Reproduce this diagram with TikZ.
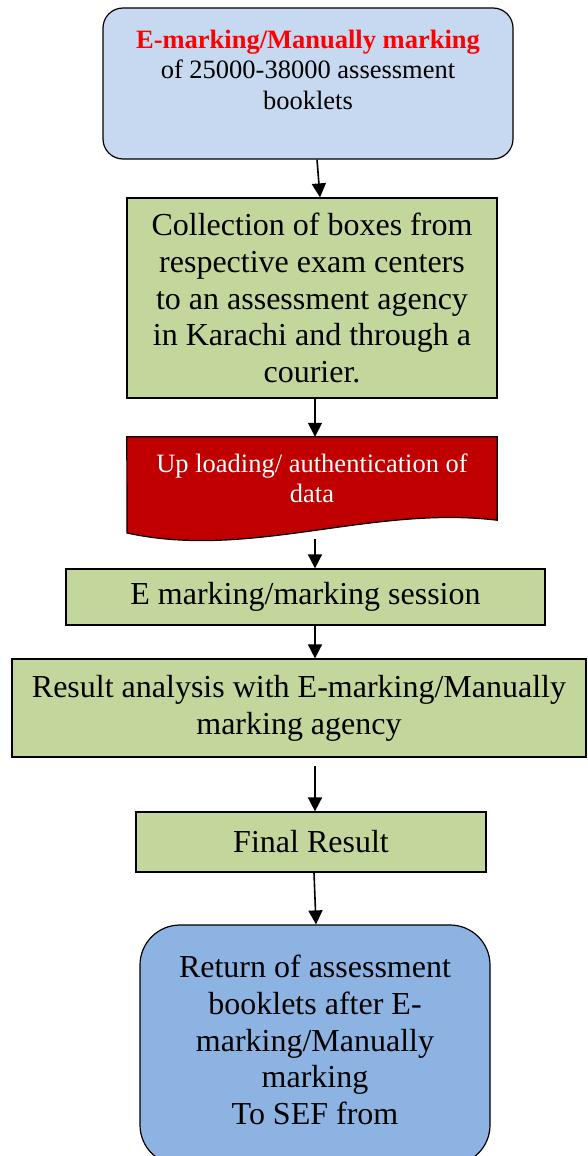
\documentclass[tikz,border=0pt]{standalone}
\usepackage{fontspec}
\setmainfont{Liberation Serif}
\usepackage{tikz}
\usetikzlibrary{arrows.meta,positioning,calc,backgrounds}
\definecolor{topblue}{RGB}{198,217,241}
\definecolor{boxgreen}{RGB}{195,214,155}
\definecolor{docred}{RGB}{192,0,0}
\definecolor{retblue}{RGB}{141,179,226}
\definecolor{markred}{RGB}{255,0,0}

\begin{document}
\begin{tikzpicture}[x=1pt, y=-1pt,
greenbox/.style={rectangle, draw=black, fill=boxgreen, line width=1.2pt, align=center, inner sep=0pt, font=\fontsize{32}{36.8}\selectfont},
roundbox/.style={rectangle, draw=black, line width=1.2pt, inner sep=0pt},
flowarrow/.style={line width=1.6pt, -{Triangle[length=14pt, width=14pt]}},
]
\useasboundingbox (0,0) rectangle (587,1156);

\node[roundbox, fill=topblue, rounded corners=20pt, minimum width=410pt, minimum height=151pt] (top) at (308,83.5)
  {\parbox[c][151pt][t]{400pt}{\centering\vspace*{22pt}\fontsize{26.5}{30.5}\selectfont
  \textcolor{markred}{\textbf{E-marking/Manually marking}}\\ of 25000-38000 assessment\\ booklets}};
\node[greenbox, minimum width=370pt, minimum height=200pt] (coll) at (312,298)
  {Collection of boxes from\\ respective exam centers\\ to an assessment agency\\ in Karachi and through a\\ courier.};
\node[rectangle, inner sep=0pt, minimum width=370pt, minimum height=83pt, align=center,
  text=white, font=\fontsize{26.5}{30.5}\selectfont] (upload) at (312,478.5)
  {Up loading/ authentication of\\ data};
\node[greenbox, minimum width=479pt, minimum height=56pt] (sess) at (305.5,597) {E marking/marking session};
\node[greenbox, minimum width=574pt, minimum height=98pt] (res) at (299,708)
  {Result analysis with E-marking/Manually\\ marking agency};
\node[greenbox, minimum width=350pt, minimum height=60pt] (final) at (311,842) {Final Result};
\node[roundbox, fill=retblue, rounded corners=40pt, minimum width=350pt, minimum height=240pt,
  font=\fontsize{32}{36.8}\selectfont] (ret) at (315,1045)
  {\parbox[c][240pt][t]{340pt}{\centering\vspace*{30pt}Return of assessment\\ booklets after E-\\ marking/Manually\\ marking\\ To SEF from}};

% document shape under the upload text
\begin{scope}[on background layer]
\filldraw[fill=docred, line width=1.2pt] (upload.north west) -- (upload.north east) -- (upload.south east)
  .. controls (370,505) and (250,560) .. (127,533) -- cycle;
\end{scope}

\draw[flowarrow] ([xshift=9pt]top.south) -- ([xshift=8pt]coll.north);
\draw[flowarrow] ([xshift=3pt]coll.south) -- ([xshift=3pt]upload.north);
\draw[flowarrow] ([xshift=3pt,yshift=-19pt]upload.south) -- ([xshift=9.5pt]sess.north);
\draw[flowarrow] ([xshift=9.5pt]sess.south) -- ([xshift=16pt]res.north);
\draw[flowarrow] ([xshift=16pt,yshift=-8pt]res.south) -- ([xshift=4pt]final.north);
\draw[flowarrow] ([xshift=3pt]final.south) -- ([xshift=1pt]ret.north);
\end{tikzpicture}
\end{document}
